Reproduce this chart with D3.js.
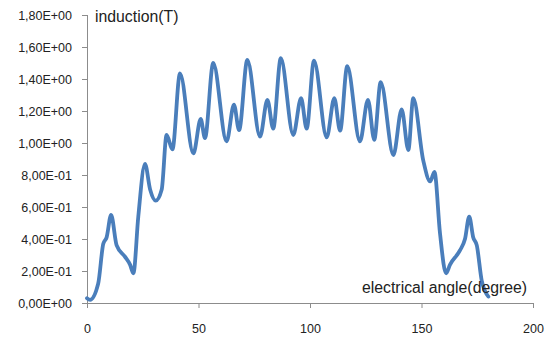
<!DOCTYPE html>
<html lang="en">
  <head>
    <meta charset="utf-8" />
    <script src="https://d3js.org/d3.v7.min.js"></script>
    <style type="text/css">
        body { margin:0; background:#fff; }
        text { font-family:"Liberation Sans", Arial, sans-serif; fill:#222; }
        .title { font-size:15.8px; }
    </style>
    <title>induction</title>
  </head>
  <body>
    <svg></svg>
  </body>
  <script type="text/javascript">

    var w = 558,
        h = 339;

    // electrical angle (degree) and induction (T)
    var angles = [ 0, 1.4, 5, 7.3, 8.8, 10.8, 13.3, 17, 19.3, 20.8,
                   23, 26, 28.3, 30.8, 33.5, 35.7, 38.3, 41.7, 47.7, 51,
                   52.9, 56.6, 62.6, 65.9, 68.2, 71.9, 77.6, 80.9, 83.5, 86.9,
                   92.5, 96, 98.5, 101.8, 107.5, 110.9, 113.5, 116.7, 122.4, 126,
                   128.8, 131.7, 137.4, 141.1, 144.1, 146.3, 150.8, 153.9, 155.8, 158.3,
                   161, 162.8, 167.3, 169.5, 171.4, 173.2, 174.8, 177, 180 ];
    var induction = [ 0.03, 0.02, 0.12, 0.37, 0.41, 0.55, 0.36, 0.29, 0.24, 0.186,
                      0.54, 0.87, 0.71, 0.64, 0.71, 1.05, 0.96, 1.435, 0.935, 1.15,
                      1.03, 1.50, 1.01, 1.24, 1.08, 1.52, 1.04, 1.27, 1.09, 1.53,
                      1.05, 1.28, 1.09, 1.515, 1.035, 1.28, 1.077, 1.48, 1.01, 1.27,
                      1.02, 1.38, 0.925, 1.21, 0.956, 1.28, 0.89, 0.76, 0.82, 0.435,
                      0.186, 0.24, 0.33, 0.40, 0.54, 0.41, 0.36, 0.14, 0.04 ];

    var xTicks = [0, 50, 100, 150, 200];
    var yTicks = [0, 0.2, 0.4, 0.6, 0.8, 1.0, 1.2, 1.4, 1.6, 1.8];
    var yTickLabels = ['0,00E+00', '2,00E-01', '4,00E-01', '6,00E-01', '8,00E-01',
                       '1,00E+00', '1,20E+00', '1,40E+00', '1,60E+00', '1,80E+00'];

    // plot area edges
    var pLeft = 87, pRight = 533, pTop = 15, pBottom = 303;

    var svg = d3.select('svg')
                .attr('width', w)
                .attr('height', h);

    var xScale = d3.scaleLinear().domain([0, 200]).range([pLeft, pRight]);
    var yScale = d3.scaleLinear().domain([0, 1.8]).range([pBottom, pTop]);

    var xAxis = svg.append('g')
       .attr('transform', 'translate(0,' + pBottom + ')')
       .call(d3.axisBottom(xScale).tickValues(xTicks).tickSize(5).tickPadding(16));

    var yAxis = svg.append('g')
       .attr('transform', 'translate(' + pLeft + ',0)')
       .call(d3.axisLeft(yScale).tickValues(yTicks).tickSize(5).tickPadding(10)
               .tickFormat(function(d, i) { return yTickLabels[i]; }));

    svg.selectAll('.domain, .tick line').attr('stroke', '#8c8c8c');
    svg.selectAll('.tick text')
       .attr('font-family', null)
       .attr('font-size', null)
       .style('font-size', '12.5px')
       .attr('fill', '#222');
    xAxis.select('.domain').attr('d', 'M' + pLeft + ',0.5H' + pRight);
    yAxis.select('.domain').attr('d', 'M0.5,' + pTop + 'V' + pBottom);

    var points = angles.map(function(a, i) { return [a, induction[i]]; });

    var line = d3.line()
                 .x(function(d) { return xScale(d[0]); })
                 .y(function(d) { return yScale(d[1]); })
                 .curve(d3.curveMonotoneX);

    svg.append('path')
       .datum(points)
       .attr('d', line)
       .attr('fill', 'none')
       .attr('stroke', '#4a7ebb')
       .attr('stroke-width', 3.8)
       .attr('stroke-linejoin', 'round')
       .attr('stroke-linecap', 'round');

    svg.append('text')
       .attr('class', 'title')
       .attr('x', 95)
       .attr('y', 22)
       .text('induction(T)');

    svg.append('text')
       .attr('class', 'title')
       .attr('x', 362)
       .attr('y', 293)
       .text('electrical angle(degree)');
    </script>
</html>
